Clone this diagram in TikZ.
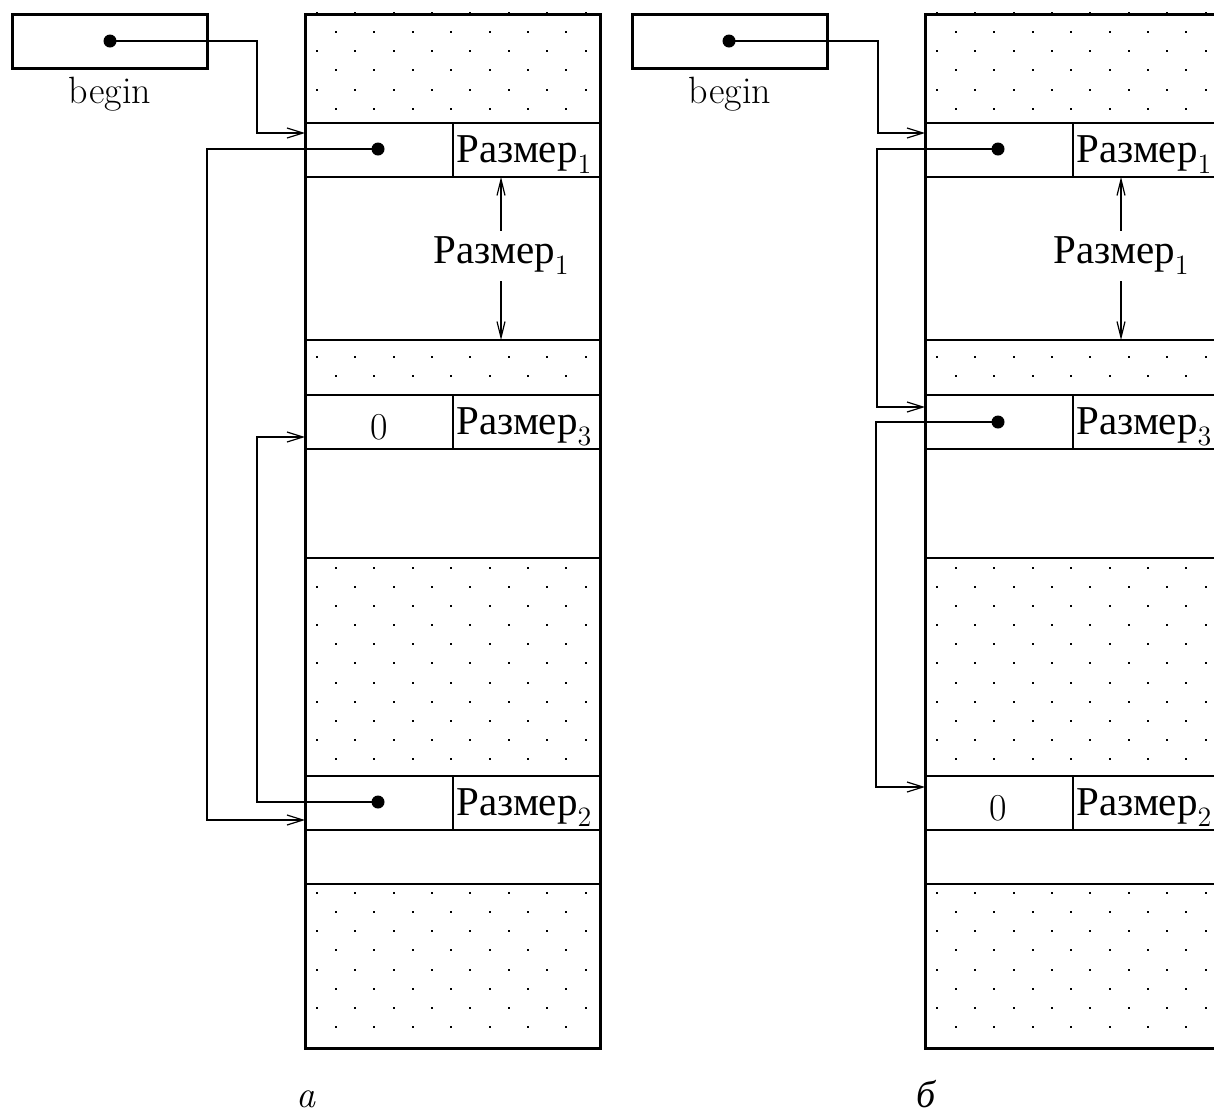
\documentclass[tikz,border=0pt]{standalone}
\usepackage{fontspec}
\usepackage{graphicx}
\newfontfamily\cyr{Liberation Serif}
\usetikzlibrary{arrows.meta}
\newcommand\razm[1]{{\cyr\fontsize{20.5}{24}\selectfont Размер}\raisebox{-5.5pt}{\fontsize{14}{14}\selectfont\addfontfeatures{FakeBold=0.6}#1}}
\tikzset{
  wall/.style={line width=1.5pt},
  sep/.style={line width=1.1pt},
  conn/.style={line width=1.15pt,-{Straight Barb[length=8pt,width=5pt,line width=0.6pt]}},
  dim/.style={line width=0.6pt,-{Straight Barb[length=8pt,width=4pt]}},
  ptr/.style={circle,fill,inner sep=0pt,minimum size=6.5pt},
  beginbox/.style={draw,line width=1.5pt,minimum width=97.5pt,minimum height=27pt,inner sep=0pt},
  txt/.style={inner sep=1pt,font=\fontsize{19}{22}\selectfont\addfontfeatures{FakeBold=0.8}},
  dimlbl/.style={inner sep=3pt,font=\fontsize{19}{22}\selectfont},
  stip/.style={fill=black},
}
\begin{document}
\begin{tikzpicture}[x=0.5pt,y=-0.5pt]
\clip (0,0) rectangle (1214,1115);
\fill[white] (0,0) rectangle (1214,1115);
% two memory columns
\foreach \o in {0,620}{
  \begin{scope}[shift={(\o,0)}]
    \foreach \k in {0,2,...,52} \foreach \i in {0,...,7}
      \fill[stip] ({315.7+38.4*\i},{14+19.13*\k}) rectangle ++(2,-2);
    \foreach \k in {1,3,...,53} \foreach \i in {0,...,6}
      \fill[stip] ({335+38.4*\i},{14+19.13*\k}) rectangle ++(2,-2);
    \fill[white] (305,123) rectangle (600,340);
    \fill[white] (305,395) rectangle (600,558);
    \fill[white] (305,776) rectangle (600,884);
    \foreach \y in {123,177,340,395,449,558,776,830,884}
      \draw[sep] (305,\y) -- (600,\y);
    \foreach \y in {123,395,776}
      \draw[sep] (453,\y) -- (453,\y+54);
    \draw[wall] (305,14) rectangle (600,1048);
  \end{scope}
}
% ---------- left diagram (a)
\node[beginbox] (ba) at (109.5,41) {};
\node[txt,anchor=base] (bla) at (110,103) {begin};
\node[ptr] (pab) at (110,41) {};
\node[ptr] (pa1) at (378,149) {};
\node[ptr] (pa5) at (378,802) {};
\coordinate (ta1) at (305,133);
\coordinate (ta3) at (305,437);
\coordinate (ta5) at (305,820);
\node[txt,anchor=base west] (ra1) at (454,162) {\razm1};
\node[txt,anchor=base west] (ra3) at (454,434) {\razm3};
\node[txt,anchor=base west] (ra5) at (454,815) {\razm2};
\node[txt] (za3) at (379,427) {0};
\node[dimlbl] (la) at (501,256) {\razm1};
\coordinate (ua) at (501,177);
\coordinate (da) at (501,340);
\draw[dim] (la) -- (ua);
\draw[dim] (la) -- (da);
\draw[conn] (pab.center) -| ([xshift=-24pt]ta1) -- (ta1);
\draw[conn] (pa1.center) -| ([xshift=-49pt]ta5) -- (ta5);
\draw[conn] (pa5.center) -| ([xshift=-24pt]ta3) -- (ta3);
\node[txt,anchor=base] (capa) at (306,1107) {\itshape a};
% ---------- right diagram (б)
\node[beginbox] (bb) at (729.5,41) {};
\node[txt,anchor=base] (blb) at (730,103) {begin};
\node[ptr] (pbb) at (729,41) {};
\node[ptr] (pb1) at (998,149) {};
\node[ptr] (pb3) at (998,422) {};
\coordinate (tb1) at (925,133);
\coordinate (tb3) at (925,407);
\coordinate (tb5) at (925,787);
\node[txt,anchor=base west] (rb1) at (1074,162) {\razm1};
\node[txt,anchor=base west] (rb3) at (1074,434) {\razm3};
\node[txt,anchor=base west] (rb5) at (1074,815) {\razm2};
\node[txt] (zb5) at (998,808) {0};
\node[dimlbl] (lb) at (1121,256) {\razm1};
\coordinate (ub) at (1121,177);
\coordinate (db) at (1121,340);
\draw[dim] (lb) -- (ub);
\draw[dim] (lb) -- (db);
\draw[conn] (pbb.center) -| ([xshift=-23.5pt]tb1) -- (tb1);
\draw[conn] (pb1.center) -| ([xshift=-24pt]tb3) -- (tb3);
\draw[conn] (pb3.center) -| ([xshift=-24.5pt]tb5) -- (tb5);
\node[txt,anchor=base] (capb) at (926,1107) {\cyr\itshape б};
\end{tikzpicture}
\end{document}
